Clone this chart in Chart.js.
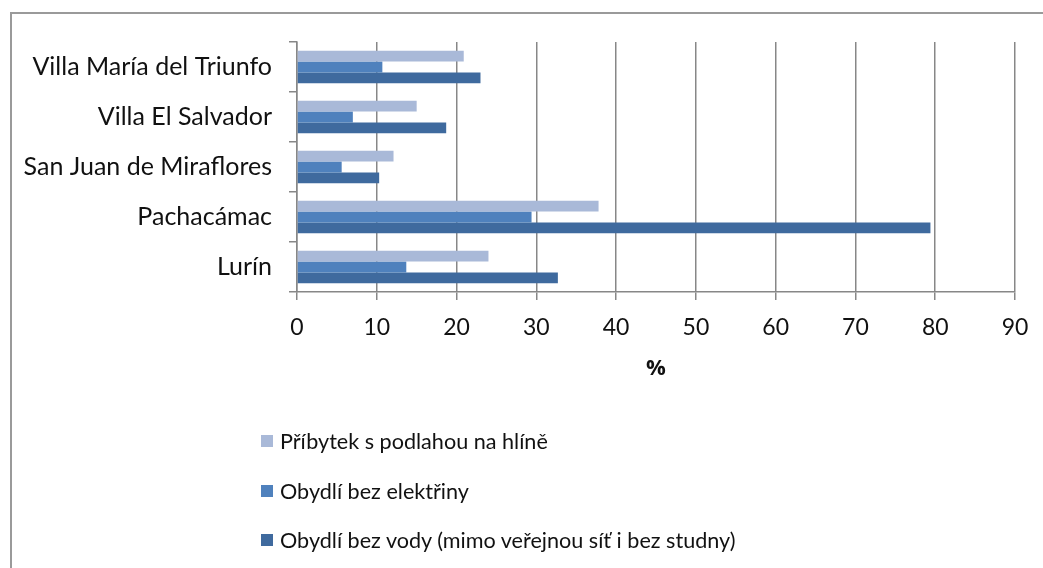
<!DOCTYPE html>
<html>
<head>
<meta charset="utf-8">
<script src="https://cdn.jsdelivr.net/npm/chart.js@4/dist/chart.umd.min.js"></script>
<style>
  body { margin: 0; background: #fff; overflow: hidden; font-family: Lato, "Open Sans", sans-serif; }
  #wrap { position: relative; width: 1043px; height: 568px; }
  #frame { position: absolute; left: 10px; top: 12px; width: 1100px; height: 600px; border: 2px solid #9a9a9a; box-sizing: border-box; }
  #box { position: absolute; left: 0; top: 0; width: 1043px; height: 568px; }
  #legend { position: absolute; left: 261px; top: 428px; font-size: 21.6px; color: #111; }
  #legend div { height: 26px; line-height: 26px; margin-bottom: 23.5px; display: flex; align-items: center; }
  #legend span.sw { width: 12px; height: 12px; display: inline-block; margin-right: 7px; }
</style>
</head>
<body>
<div id="wrap">
  <div id="frame"></div>
  <div id="box"><canvas id="chart" width="1043" height="568"></canvas></div>
  <div id="legend"></div>
</div>
<script>
const kategorie = ["Villa María del Triunfo", "Villa El Salvador", "San Juan de Miraflores", "Pachacámac", "Lurín"];
const nazvyRad = [
  "Příbytek s podlahou na hlíně",
  "Obydlí bez elektřiny",
  "Obydlí bez vody (mimo veřejnou síť i bez studny)"
];
const podlahaHlina = [20.9, 15.0, 12.1, 37.8, 24.0];
const bezElektriny = [10.7, 7.0, 5.6, 29.4, 13.7];
const bezVody = [23.0, 18.7, 10.3, 79.4, 32.7];
const barvy = ["#A9B9D8", "#4F81BD", "#3F6A9E"];

const pismo = "Lato, 'Open Sans', sans-serif";
const sedaMrizka = "#878787";

const chart = new Chart(document.getElementById("chart").getContext("2d"), {
  type: "bar",
  data: {
    labels: kategorie,
    datasets: [
      { label: nazvyRad[0], data: podlahaHlina, backgroundColor: barvy[0] },
      { label: nazvyRad[1], data: bezElektriny, backgroundColor: barvy[1] },
      { label: nazvyRad[2], data: bezVody, backgroundColor: barvy[2] }
    ]
  },
  options: {
    indexAxis: "y",
    responsive: false,
    animation: false,
    layout: { padding: { left: 10, top: 42, right: 28, bottom: 186 } },
    datasets: { bar: { categoryPercentage: 0.65, barPercentage: 1.0 } },
    plugins: { legend: { display: false }, tooltip: { enabled: false } },
    scales: {
      x: {
        min: 0, max: 90,
        ticks: { stepSize: 10, color: "#111", font: { family: pismo, size: 23 }, padding: 14 },
        grid: { color: sedaMrizka, lineWidth: 1.5, tickLength: 8 },
        border: { color: sedaMrizka, width: 1.5 },
        title: { display: true, text: "%", color: "#111", font: { family: "'Open Sans', Lato, sans-serif", size: 22, weight: "bold" }, padding: { top: 4, bottom: 0 } },
        afterFit: s => { s.height = 90; }
      },
      y: {
        ticks: { color: "#111", font: { family: pismo, size: 25 }, padding: 17 },
        grid: { drawOnChartArea: false, color: sedaMrizka, lineWidth: 1.5, tickLength: 8, offset: true },
        border: { color: sedaMrizka, width: 1.5 },
        afterFit: s => { s.width = 287; }
      }
    }
  }
});

// legenda pod grafem (svisle, zarovnana vlevo)
const leg = document.getElementById("legend");
chart.data.datasets.forEach(ds => {
  const row = document.createElement("div");
  row.innerHTML = `<span class="sw" style="background:${ds.backgroundColor}"></span>${ds.label}`;
  leg.appendChild(row);
});
</script>
</body>
</html>
